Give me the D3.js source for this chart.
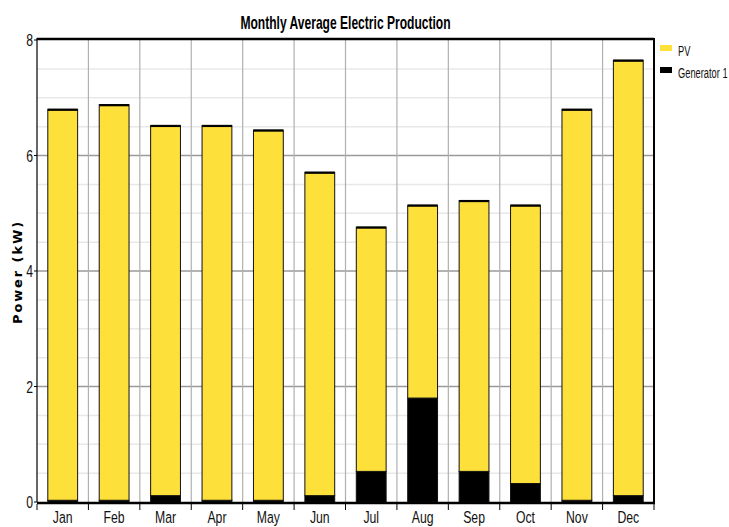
<!DOCTYPE html>
<html><head><meta charset="utf-8">
<script src="https://cdn.jsdelivr.net/npm/d3@7"></script>
<style>body{margin:0;background:#fff}text{font-family:"Liberation Sans",Arial,sans-serif}</style>
</head><body><svg id="c" width="729" height="527"></svg>
<script>
const months = ["Jan","Feb","Mar","Apr","May","Jun","Jul","Aug","Sep","Oct","Nov","Dec"];
const generator = [0.03,0.03,0.11,0.03,0.03,0.11,0.53,1.80,0.53,0.32,0.03,0.11];
const pv = [6.77,6.85,6.41,6.49,6.41,5.60,4.23,3.34,4.69,4.82,6.77,7.54];
const yTicks = [0,2,4,6,8];
const seriesNames = ["PV","Generator 1"];
const colors = {"PV":"#FEE03A","Generator 1":"#000000"};

const svg = d3.select("#c");
const m = {l:37, r:654, t:40, b:502};
const x = d3.scaleBand().domain(months).range([m.l, m.r]).paddingInner(0.42).paddingOuter(0.21);
const xb = d3.scaleBand().domain(months).range([m.l, m.r]);
const y = d3.scaleLinear().domain([0,8]).range([m.b, m.t]);

// condensed text helper
function ctext(sel, px, py, sx){ return sel.attr("x",0).attr("y",0).attr("transform",`translate(${px},${py}) scale(${sx},1)`); }

// minor grid
svg.append("g").selectAll("line").data(d3.range(0.5,8,0.5).filter(v=>v%2!==0)).join("line")
  .attr("x1",m.l).attr("x2",m.r).attr("y1",d=>y(d)).attr("y2",d=>y(d))
  .attr("stroke","#e8e8e8").attr("stroke-width",1.5);
// major grid
svg.append("g").selectAll("line").data([2,4,6]).join("line")
  .attr("x1",m.l).attr("x2",m.r).attr("y1",d=>y(d)).attr("y2",d=>y(d))
  .attr("stroke","#9a9a9a").attr("stroke-width",1.5);
// vertical grid
svg.append("g").selectAll("line").data(months.slice(1)).join("line")
  .attr("x1",d=>xb(d)).attr("x2",d=>xb(d)).attr("y1",m.t).attr("y2",m.b)
  .attr("stroke","#b0b0b0").attr("stroke-width",1.2);

// stacked bars
const data = months.map((mo,i)=>({month:mo,"Generator 1":generator[i],"PV":pv[i]}));
const stack = d3.stack().keys(["Generator 1","PV"])(data);
svg.append("g").selectAll("g").data(stack).join("g")
  .attr("fill",d=>colors[d.key])
  .selectAll("rect").data(d=>d).join("rect")
  .attr("x",d=>x(d.data.month)).attr("width",x.bandwidth())
  .attr("y",d=>y(d[1])).attr("height",d=>y(d[0])-y(d[1]))
  .attr("stroke","#111").attr("stroke-width",1);
// thicker top edge of each bar
svg.append("g").selectAll("line").data(data).join("line")
  .attr("x1",d=>x(d.month)).attr("x2",d=>x(d.month)+x.bandwidth())
  .attr("y1",d=>y(d["PV"]+d["Generator 1"])+0.5).attr("y2",d=>y(d["PV"]+d["Generator 1"])+0.5)
  .attr("stroke","#000").attr("stroke-width",2.2);

// borders
svg.append("line").attr("x1",m.l).attr("x2",m.r).attr("y1",m.t-1).attr("y2",m.t-1).attr("stroke","#000").attr("stroke-width",2.5);
svg.append("line").attr("x1",m.r).attr("x2",m.r).attr("y1",m.t-2).attr("y2",m.b).attr("stroke","#000").attr("stroke-width",2);
svg.append("line").attr("x1",m.l).attr("x2",m.l).attr("y1",m.t-2).attr("y2",m.b).attr("stroke","#000").attr("stroke-width",1.2);
svg.append("line").attr("x1",m.l).attr("x2",m.r+1).attr("y1",m.b+1).attr("y2",m.b+1).attr("stroke","#000").attr("stroke-width",2.5);

// y axis ticks and labels
svg.append("g").selectAll("line").data(yTicks).join("line")
  .attr("x1",m.l-3).attr("x2",m.l).attr("y1",d=>y(d)).attr("y2",d=>y(d)).attr("stroke","#000");
svg.append("g").selectAll("text").data(yTicks).join("text")
  .each(function(d){ ctext(d3.select(this), m.l-4, y(d)+6, 0.72); })
  .attr("text-anchor","end").attr("font-size",17).attr("fill","#111").text(d=>d);

// x axis ticks at boundaries
svg.append("g").selectAll("line").data(months.concat(["end"])).join("line")
  .attr("x1",(d,i)=>i<12?xb(d):m.r).attr("x2",(d,i)=>i<12?xb(d):m.r)
  .attr("y1",m.b+2).attr("y2",m.b+8).attr("stroke","#000").attr("stroke-width",1);
svg.append("g").selectAll("text").data(months).join("text")
  .each(function(d){ ctext(d3.select(this), xb(d)+xb.bandwidth()/2, 523, 0.72); })
  .attr("text-anchor","middle").attr("font-size",17).attr("fill","#111").text(d=>d);

// title
ctext(svg.append("text"), (m.l+m.r)/2, 29, 0.67).attr("text-anchor","middle")
  .attr("font-size",18).attr("font-weight","bold").attr("fill","#000")
  .text("Monthly Average Electric Production");

// y label
svg.append("text").attr("transform","translate(22,272) rotate(-90)").attr("text-anchor","middle")
  .style("font-family",'"DejaVu Sans",Verdana,sans-serif').attr("font-size",13).attr("font-weight","bold")
  .attr("fill","#000").attr("letter-spacing",1.9).text("Power (kW)");

// legend
const lg = svg.append("g").selectAll("g").data(seriesNames).join("g")
  .attr("transform",(d,i)=>`translate(660,${45+i*22})`);
lg.append("rect").attr("width",12).attr("height",6).attr("fill",d=>colors[d]);
lg.append("text").each(function(){ ctext(d3.select(this), 18, 11, 0.62); })
  .attr("font-size",15).attr("fill","#111").text(d=>d);
</script></body></html>
